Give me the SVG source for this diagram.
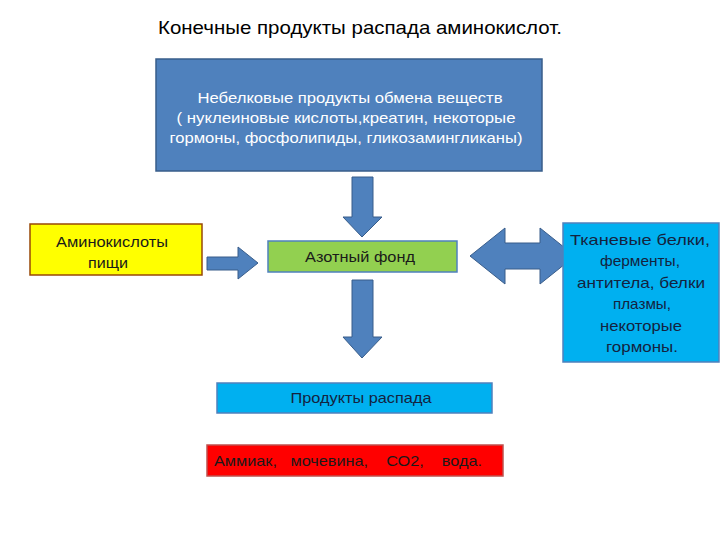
<svg xmlns="http://www.w3.org/2000/svg" width="720" height="540" viewBox="0 0 720 540">
<style>
text{font-family:"Liberation Sans","Noto Sans",sans-serif;text-anchor:middle;}
.arr{fill:#4F81BD;stroke:#385D8A;stroke-width:1;}
.w{fill:#FFFFFF;font-size:15px;}
.d{fill:#1A1A1A;font-size:15px;}
.n{fill:#14233F;font-size:15px;}
</style>
<rect width="720" height="540" fill="#FFFFFF"/>
<text x="360" y="34" textLength="404" lengthAdjust="spacingAndGlyphs" style="font-size:19px;fill:#000">Конечные продукты распада аминокислот.</text>
<g id="top">
<rect x="156" y="59" width="386" height="112" fill="#4F81BD" stroke="#385D8A" stroke-width="1.5"/>
<text class="w" x="350" y="103" textLength="305" lengthAdjust="spacingAndGlyphs">Небелковые продукты обмена веществ</text>
<text class="w" x="346" y="123" textLength="339" lengthAdjust="spacingAndGlyphs">( нуклеиновые кислоты,креатин, некоторые</text>
<text class="w" x="346" y="143" textLength="353" lengthAdjust="spacingAndGlyphs">гормоны, фосфолипиды, гликозамингликаны)</text>
</g>
<g id="amino">
<rect x="30" y="224" width="172" height="51" fill="#FFFF00" stroke="#984807" stroke-width="1.5"/>
<text class="d" x="112" y="247" textLength="112" lengthAdjust="spacingAndGlyphs">Аминокислоты</text>
<text class="d" x="108" y="268" textLength="40" lengthAdjust="spacingAndGlyphs">пищи</text>
</g>
<g id="fond">
<rect x="268" y="241" width="189" height="31" fill="#92D050" stroke="#4F81BD" stroke-width="1.5"/>
<text class="d" x="360" y="262" textLength="110" lengthAdjust="spacingAndGlyphs">Азотный фонд</text>
</g>
<g id="connectors">
<polygon class="arr" points="352,177 373,177 373,217 382,217 362,237 343,217 352,217"/>
<polygon class="arr" points="352,280 373,280 373,337 382,337 362,358 343,337 352,337"/>
<polygon class="arr" points="207,257 238,257 238,247 258,263 238,279 238,270 207,270"/>
<polygon class="arr" points="470,256 505,228 505,243 540,243 540,228 575,256 540,284 540,269 505,269 505,284"/>
</g>
<g id="tissue">
<rect x="563" y="223" width="156" height="139" fill="#00B0F0" stroke="#4F81BD" stroke-width="1.5"/>
<text class="n" x="640" y="245" textLength="140" lengthAdjust="spacingAndGlyphs">Тканевые белки,</text>
<text class="n" x="640" y="266" textLength="80" lengthAdjust="spacingAndGlyphs">ферменты,</text>
<text class="n" x="641" y="288" textLength="128" lengthAdjust="spacingAndGlyphs">антитела, белки</text>
<text class="n" x="642" y="309" textLength="58" lengthAdjust="spacingAndGlyphs">плазмы,</text>
<text class="n" x="641" y="331" textLength="82" lengthAdjust="spacingAndGlyphs">некоторые</text>
<text class="n" x="642" y="352" textLength="72" lengthAdjust="spacingAndGlyphs">гормоны.</text>
</g>
<g id="products">
<rect x="217" y="383" width="275" height="30" fill="#00B0F0" stroke="#4F81BD" stroke-width="1.5"/>
<text class="n" x="361" y="403" textLength="141" lengthAdjust="spacingAndGlyphs">Продукты распада</text>
</g>
<g id="final">
<rect x="207" y="445" width="296" height="31" fill="#FF0000" stroke="#C0504D" stroke-width="1.5"/>
<text class="d" x="348" y="466" textLength="268" lengthAdjust="spacingAndGlyphs" xml:space="preserve">Аммиак,   мочевина,    СО2,    вода.</text>
</g>
</svg>
